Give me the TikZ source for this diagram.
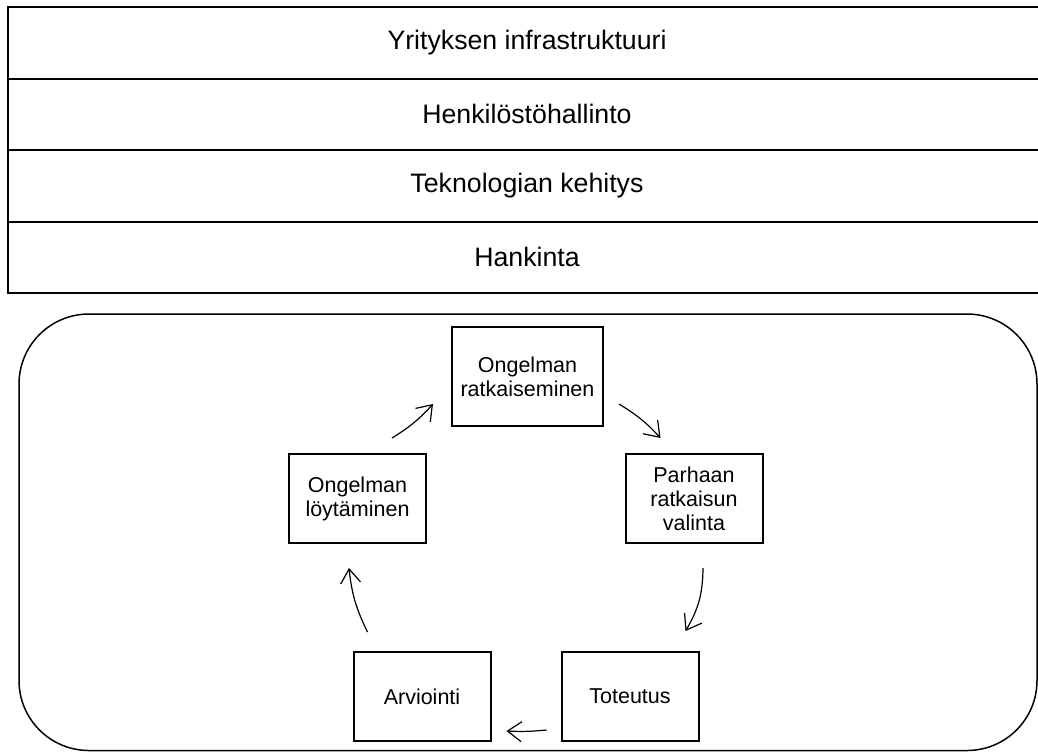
\documentclass[tikz,border=0pt]{standalone}
\usepackage{fontspec}
\setmainfont{Liberation Sans}
\usetikzlibrary{arrows.meta, calc}

\begin{document}
\begin{tikzpicture}[x=0.5pt, y=-0.5pt,
  every node/.style={font=\fontsize{10.75}{12}\selectfont},
  layer/.style={inner sep=0pt, font=\fontsize{13.35}{16}\selectfont},
  rule/.style={line width=1pt},
  stage/.style={draw, line width=1pt, minimum width=68.5pt, minimum height=44.5pt,
    inner sep=2pt, align=center},
  cyc/.style={-{Straight Barb[length=7pt,width=10pt]}, line width=0.6pt}]
  \useasboundingbox (0,0) rectangle (1038,752);
  % support activities (open to the right)
  \draw[rule] (1100,7) -- (8,7) -- (8,293) -- (1100,293);
  \foreach \y in {78.5,150,221.5}
    \draw[rule] (8,\y) -- (1100,\y);
  \node[layer] (infra) at (527,42.75) {Yrityksen infrastruktuuri};
  \node[layer] (henk) at (527,114.25) {Henkilöstöhallinto};
  \node[layer] (tekn) at (527,185.75) {Teknologian kehitys};
  \node[layer] (hank) at (527,257.25) {Hankinta};
  % cycle frame
  \draw[line width=0.75pt, rounded corners=35pt] (19,314) rectangle (1037,750.5);
  % stages of the cycle
  \node[stage, minimum width=75.5pt, minimum height=49.5pt] (ratk) at (527.5,376.5) {Ongelman\\ratkaiseminen};
  \node[stage] (valinta) at (694,498.5) {Parhaan\\ratkaisun\\valinta};
  \node[stage] (toteutus) at (630,696.5) {Toteutus};
  \node[stage] (arviointi) at (422,696.5) {Arviointi};
  \node[stage] (loyt) at (357.5,498.5) {Ongelman\\löytäminen};
  % arrows between them
  \draw[cyc] ($(loyt.north east)+(-35,-15)$) to[bend right=8] ($(ratk.south west)+(-18,-23)$);
  \draw[cyc] ($(ratk.south east)+(15,-23)$) to[bend left=8] ($(valinta.north west)+(36,-15)$);
  \draw[cyc] ($(valinta.south)+(9,24)$) to[bend left=15] ($(toteutus.north east)+(-14,-20)$);
  \draw[cyc] ($(toteutus.south west)+(-14,-12)$) to[bend left=4] ($(arviointi.south east)+(15,-11)$);
  \draw[cyc] ($(arviointi.north west)+(15,-19)$) to[bend left=10] ($(loyt.south)+(-8.5,24)$);
\end{tikzpicture}
\end{document}
